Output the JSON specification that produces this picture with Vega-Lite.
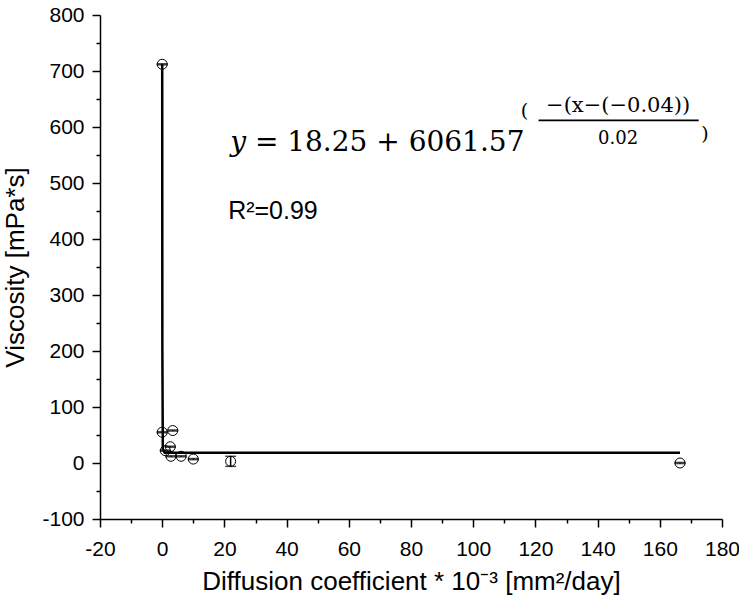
{
  "$schema": "https://vega.github.io/schema/vega-lite/v6.json",
  "width": 622,
  "height": 504,
  "autosize": "none",
  "padding": {"left": 100, "top": 15, "right": 17, "bottom": 82},
  "background": "white",
  "config": {"view": {"stroke": null}},
  "datasets": {
    "pts": [
      {"d": 0, "v": 712, "lo": 711, "hi": 713},
      {"d": 0, "v": 55, "lo": 54, "hi": 56},
      {"d": 3.4, "v": 58, "lo": 57, "hi": 59},
      {"d": 1, "v": 22, "lo": 21, "hi": 23},
      {"d": 2.6, "v": 29, "lo": 28, "hi": 30},
      {"d": 2.8, "v": 12, "lo": 11, "hi": 13},
      {"d": 6.1, "v": 12, "lo": 11, "hi": 13},
      {"d": 10, "v": 7, "lo": 6, "hi": 8},
      {"d": 22, "v": 3, "lo": -6, "hi": 12},
      {"d": 166.5, "v": 0, "lo": -1, "hi": 1}
    ],
    "fit": [
      {"d": 0, "v": 712},
      {"d": 0.05, "v": 205},
      {"d": 0.2, "v": 25},
      {"d": 0.8, "v": 18.5},
      {"d": 166.5, "v": 18.25}
    ]
  },
  "encoding": {
    "x": {
      "field": "d", "type": "quantitative",
      "scale": {"domain": [-20, 180], "nice": false, "zero": false},
      "axis": {
        "title": "Diffusion coefficient * 10⁻³ [mm²/day]",
        "values": [-20, -10, 0, 10, 20, 30, 40, 50, 60, 70, 80, 90, 100, 110, 120, 130, 140, 150, 160, 170, 180],
        "labelExpr": "datum.value % 20 === 0 ? toString(datum.value) : ''",
        "tickSize": {"condition": {"test": "datum.value % 20 === 0", "value": 8}, "value": 4},
        "grid": false,
        "domainColor": "black", "domainWidth": 1.5,
        "tickColor": "black", "tickWidth": 1.5,
        "labelColor": "black", "labelFont": "Liberation Sans", "labelFontSize": 21,
        "labelPadding": 11, "labelOverlap": false, "labelFlush": false,
        "titleColor": "black", "titleFont": "Liberation Sans", "titleFontSize": 26,
        "titleFontWeight": "normal", "titlePadding": 9
      }
    },
    "y": {
      "field": "v", "type": "quantitative",
      "scale": {"domain": [-100, 800], "nice": false, "zero": false},
      "axis": {
        "title": "Viscosity [mPa*s]",
        "values": [-100, -50, 0, 50, 100, 150, 200, 250, 300, 350, 400, 450, 500, 550, 600, 650, 700, 750, 800],
        "labelExpr": "datum.value % 100 === 0 ? toString(datum.value) : ''",
        "tickSize": {"condition": {"test": "datum.value % 100 === 0", "value": 8}, "value": 4},
        "grid": false,
        "domainColor": "black", "domainWidth": 1.5,
        "tickColor": "black", "tickWidth": 1.5,
        "labelColor": "black", "labelFont": "Liberation Sans", "labelFontSize": 21,
        "labelPadding": 8, "labelOverlap": false, "labelFlush": false,
        "titleColor": "black", "titleFont": "Liberation Sans", "titleFontSize": 26,
        "titleFontWeight": "normal", "titlePadding": 13
      }
    }
  },
  "layer": [
    {
      "data": {"name": "fit"},
      "mark": {"type": "line", "color": "black", "strokeWidth": 2.5, "interpolate": "linear"},
      "encoding": {"order": {"field": "v", "sort": "descending"}}
    },
    {
      "data": {"name": "pts"},
      "mark": {"type": "rule", "color": "black", "strokeWidth": 1.5},
      "encoding": {"y": {"field": "lo", "type": "quantitative"}, "y2": {"field": "hi"}}
    },
    {
      "data": {"name": "pts"},
      "mark": {"type": "tick", "orient": "horizontal", "color": "black", "size": 11, "thickness": 1.5},
      "encoding": {"y": {"field": "lo", "type": "quantitative"}}
    },
    {
      "data": {"name": "pts"},
      "mark": {"type": "tick", "orient": "horizontal", "color": "black", "size": 11, "thickness": 1.5},
      "encoding": {"y": {"field": "hi", "type": "quantitative"}}
    },
    {
      "data": {"name": "pts"},
      "mark": {"type": "point", "shape": "circle", "filled": false, "color": "black", "strokeWidth": 1, "size": 100, "opacity": 1}
    },
    {
      "data": {"values": [{"d": 21.9, "v": 557, "t": "y"}]},
      "mark": {"type": "text", "font": "DejaVu Serif", "fontStyle": "italic", "fontSize": 28, "align": "left", "baseline": "alphabetic", "color": "black"},
      "encoding": {"text": {"field": "t"}}
    },
    {
      "data": {"values": [{"d": 29.8, "v": 557, "t": "= 18.25 + 6061.57"}]},
      "mark": {"type": "text", "font": "DejaVu Serif", "fontSize": 28, "align": "left", "baseline": "alphabetic", "color": "black"},
      "encoding": {"text": {"field": "t"}}
    },
    {
      "data": {"values": [{"d": 116.5, "v": 618, "t": "("}, {"d": 174.5, "v": 576, "t": ")"}]},
      "mark": {"type": "text", "font": "DejaVu Serif", "fontSize": 19, "align": "center", "baseline": "alphabetic", "color": "black"},
      "encoding": {"text": {"field": "t"}}
    },
    {
      "data": {"values": [{"d": 146.6, "v": 626, "t": "−(x−(−0.04))"}]},
      "mark": {"type": "text", "font": "DejaVu Serif", "fontSize": 21, "align": "center", "baseline": "alphabetic", "color": "black"},
      "encoding": {"text": {"field": "t"}}
    },
    {
      "data": {"values": [{"d": 146.6, "v": 570, "t": "0.02"}]},
      "mark": {"type": "text", "font": "DejaVu Serif", "fontSize": 18, "align": "center", "baseline": "alphabetic", "color": "black"},
      "encoding": {"text": {"field": "t"}}
    },
    {
      "data": {"values": [{"d": 121, "d2": 172.5, "v": 612}]},
      "mark": {"type": "rule", "color": "black", "strokeWidth": 1.8},
      "encoding": {"x2": {"field": "d2"}}
    },
    {
      "data": {"values": [{"d": 21.2, "v": 436, "t": "R²=0.99"}]},
      "mark": {"type": "text", "font": "Liberation Sans", "fontSize": 25, "align": "left", "baseline": "alphabetic", "color": "black"},
      "encoding": {"text": {"field": "t"}}
    }
  ]
}
